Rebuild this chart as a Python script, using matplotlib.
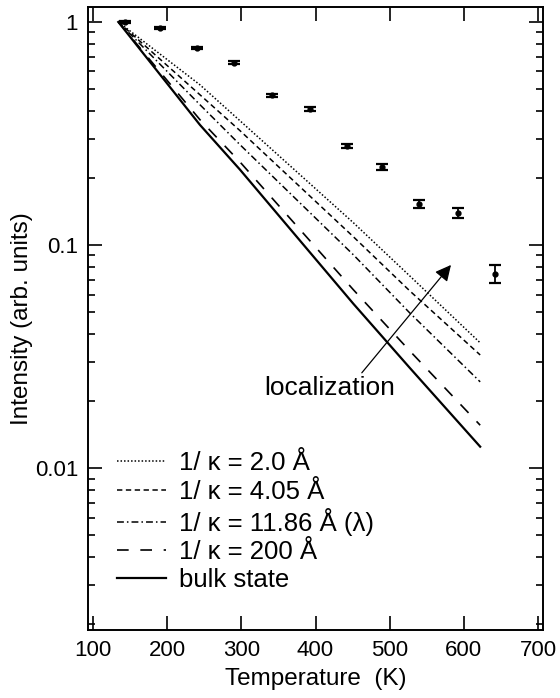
import matplotlib
matplotlib.use("Agg")
import matplotlib.pyplot as plt
from matplotlib import ticker

plt.rcParams['font.family'] = ['Liberation Sans', 'DejaVu Sans']

# measured points (temperature K, intensity, error)
temp_pts = [143, 190, 240, 290, 341, 392, 443, 490, 540, 592, 642]
inten_pts = [1.0, 0.94, 0.764, 0.655, 0.469, 0.409, 0.279, 0.223, 0.153, 0.139, 0.0744]
err_pts = [0.01, 0.01, 0.01, 0.01, 0.008, 0.008, 0.006, 0.007, 0.006, 0.007, 0.007]

# calculated curves
temp_calc = [134, 244, 298, 451, 527, 622]
kappa_2_0 = [1.0, 0.523, 0.361, 0.126, 0.0728, 0.0365]
kappa_4_05 = [1.0, 0.472, 0.326, 0.109, 0.0624, 0.0322]
kappa_11_86 = [1.0, 0.426, 0.282, 0.0905, 0.0497, 0.0244]
kappa_200 = [1.0, 0.365, 0.236, 0.0631, 0.0336, 0.0156]
bulk = [1.0, 0.346, 0.218, 0.0546, 0.0282, 0.0125]

labels = ["1/ κ = 2.0 Å", "1/ κ = 4.05 Å", "1/ κ = 11.86 Å (λ)", "1/ κ = 200 Å", "bulk state"]

fig = plt.figure(figsize=(5.6, 6.98), dpi=100)
ax = fig.add_axes([0.157, 0.097, 0.813, 0.893])

ax.plot(temp_calc, kappa_2_0, color="black", lw=1.1, dashes=(1, 1.3), label=labels[0])
ax.plot(temp_calc, kappa_4_05, color="black", lw=1.1, dashes=(3.5, 2.3), label=labels[1])
ax.plot(temp_calc, kappa_11_86, color="black", lw=1.1, dashes=(4.5, 2, 1, 2), label=labels[2])
ax.plot(temp_calc, kappa_200, color="black", lw=1.2, dashes=(7, 7), label=labels[3])
ax.plot(temp_calc, bulk, color="black", lw=1.6, label=labels[4])

ax.errorbar(temp_pts, inten_pts, yerr=err_pts, fmt="o", color="black", ms=3.5,
            elinewidth=1.3, capsize=4, capthick=1.6)

ax.annotate("", xy=(585, 0.0833), xytext=(460, 0.0262),
            arrowprops=dict(arrowstyle="-|>", color="black", lw=0.9, mutation_scale=24))
ax.text(507, 0.0229, "localization", ha="right", va="center", fontsize=19)

ax.set_yscale("log")
ax.set_xlim(93, 707)
ax.set_ylim(0.00188, 1.167)
ax.set_xticks([100, 200, 300, 400, 500, 600, 700])
ax.set_yticks([0.01, 0.1, 1])
ax.yaxis.set_major_formatter(ticker.FuncFormatter(lambda v, p: f"{v:g}"))
ax.yaxis.set_minor_formatter(ticker.NullFormatter())

ax.tick_params(which="both", direction="in", top=True, right=True, labelsize=16, width=1.2)
ax.tick_params(which="major", length=10, pad=7)
ax.tick_params(which="minor", length=5)
for s in ax.spines.values():
    s.set_linewidth(1.4)

ax.set_xlabel("Temperature  (K)", fontsize=17.5, labelpad=5)
ax.set_ylabel("Intensity (arb. units)", fontsize=17.5, labelpad=1)

ax.legend(loc="upper left", frameon=False, fontsize=18.5, handlelength=1.9,
          handletextpad=0.5, labelspacing=0.16, borderaxespad=0, borderpad=0,
          bbox_to_anchor=(0.064, 0.287))

fig.savefig("out.png", dpi=100)
